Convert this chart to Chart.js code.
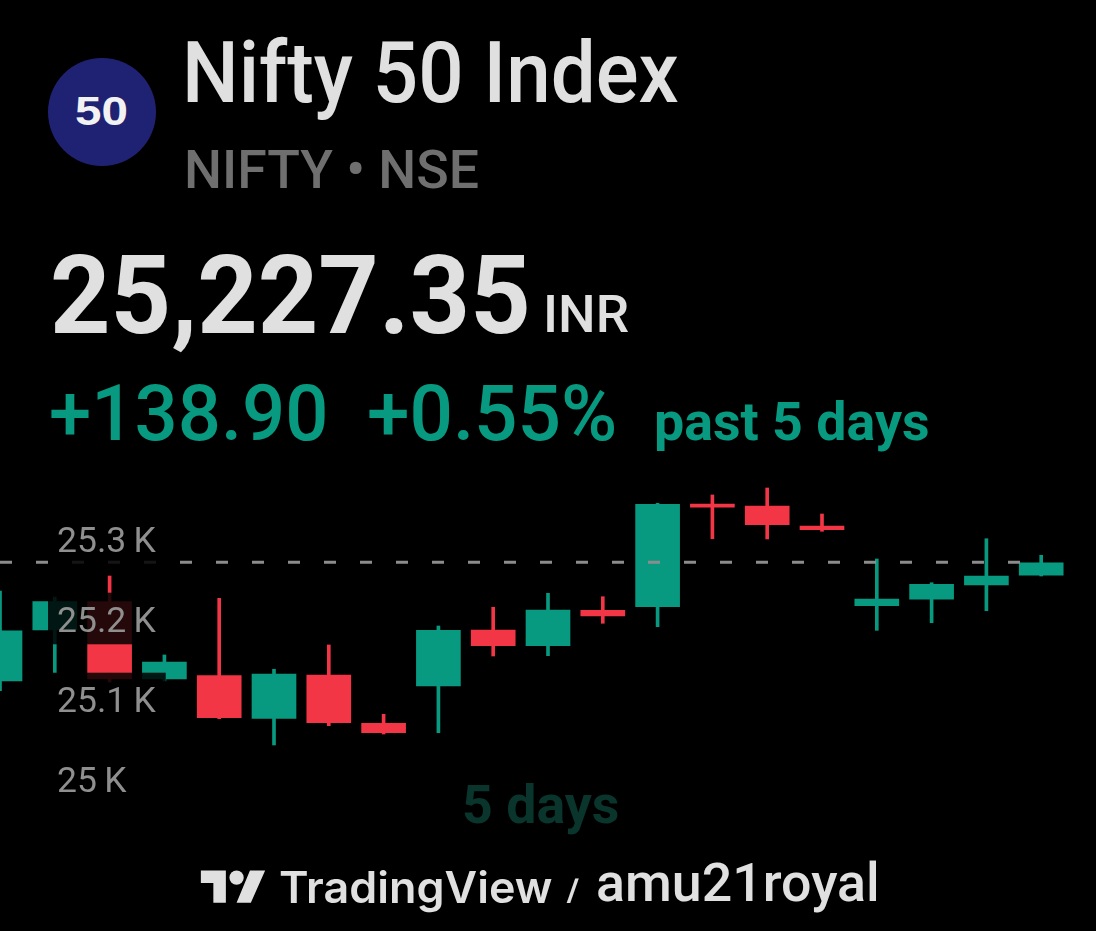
<!DOCTYPE html>
<html><head><meta charset="utf-8">
<script src="https://cdn.jsdelivr.net/npm/chart.js@4"></script>
<style>
html,body{margin:0;padding:0;background:#000;width:1096px;height:931px;overflow:hidden}
#c{position:absolute;left:0;top:0}
.t{position:absolute;white-space:nowrap;font-family:Roboto,sans-serif;line-height:1;transform-origin:0 0}
#logo{position:absolute;left:48px;top:58px;width:108px;height:108px;border-radius:50%;background:#1f2273}
</style></head><body>
<canvas id="c" width="1096" height="931"></canvas>
<div id="logo"></div>
<div class="t" style="left:75px;top:91px;font:700 41px 'Liberation Sans';color:#f2f2f2;line-height:1;transform:scaleX(1.16)">50</div>
<div class="t" style="left:182px;top:31px;font-size:85px;font-weight:500;color:#e0e0e0;transform:scaleX(.94)">Nifty 50 Index</div>
<div class="t" style="left:184px;top:143px;font-size:54px;font-weight:500;color:#6f6f6f;transform:scaleX(.992)">NIFTY • NSE</div>
<div class="t" style="left:50px;top:241px;font-size:110px;font-weight:700;color:#e0e0e0;transform:scaleX(.96)">25,227.35</div>
<div class="t" style="left:543px;top:289px;font-size:52px;font-weight:500;color:#e0e0e0;transform:scaleX(1.02)">INR</div>
<div class="t" style="left:49px;top:375px;font-size:78px;font-weight:500;color:#089981;transform:scaleX(.975)">+138.90</div>
<div class="t" style="left:367px;top:375px;font-size:78px;font-weight:500;color:#089981;transform:scaleX(.98)">+0.55%</div>
<div class="t" style="left:654px;top:395px;font-size:54px;font-weight:700;color:#089981;transform:scaleX(.995)">past 5 days</div>
<div class="t" style="left:462px;top:778px;font-size:54px;font-weight:700;color:#0a352d;transform:scaleX(.995)">5 days</div>
<svg style="position:absolute;left:200px;top:858px" width="66" height="50" viewBox="0 0 36 28"><path fill="#e0e0e0" d="M14 25H7V14H0V7h14v18zM28 25h-8l7.5-18H36l-8 18z"/><circle fill="#e0e0e0" cx="20" cy="11" r="4"/></svg>
<div class="t" style="left:279px;top:860px;font:600 44px Inter;color:#e0e0e0;transform:scaleX(1.02)">TradingView</div>
<div class="t" style="left:566px;top:873px;font:500 28px Inter;color:#e0e0e0;transform:scaleX(1.3)">/</div>
<div class="t" style="left:596px;top:856px;font-size:54px;font-weight:500;color:#e0e0e0;transform:scaleX(.995)">amu21royal</div>
<script>
const categories=['1','2','3','4','5','6','7','8','9','10','11','12','13','14','15','16','17','18','19','20',''];
const opens =[25123.8,25187.5,25222.9,25126.3,25130.4,25077.1,25131.3,25070.9,25117.5,25187.5,25167.9,25212.1,25216.6,25345,25342.5,25317.5,25217.9,25225.9,25243.8,25255.9];
const closes=[25186.6,25222.9,25126.3,25147.5,25077.9,25132.5,25071.6,25059.1,25187.1,25167.9,25212.5,25205,25344.6,25340.9,25319.1,25312.9,25226.3,25244.6,25255,25271.6];
const highs =[25236.3,25228.8,25255,25156.3,25227.1,25138.4,25168.8,25082.1,25192.5,25215.9,25233.4,25229.1,25345.9,25356.3,25365,25332.5,25276.3,25246.6,25301.6,25280.9];
const lows  =[25111.6,25133.8,25122.5,25123.8,25076.6,25043.8,25067.9,25057.5,25059.1,25155,25155.4,25195.9,25191.6,25301.6,25301.3,25310.9,25187.1,25196.6,25211.6,25255];
const refPrice=25272.1;
const tickValues=[25000,25100,25200,25300];
const tickLabels=['25\u2009K','25.1\u2009K','25.2\u2009K','25.3\u2009K'];
const GREEN='#089981',RED='#f23645';
const colors=opens.map((o,i)=>closes[i]>=o?GREEN:RED);
new Chart(document.getElementById('c'),{
  type:'bar',
  data:{labels:categories,datasets:[
    {type:'line',data:opens.map(()=>refPrice),borderColor:'#8c8c8c',borderWidth:3,borderDash:[12,24],pointRadius:0,order:0},
    {label:'wick',data:highs.map((h,i)=>[lows[i],h]),backgroundColor:colors,barThickness:3,grouped:false,order:2},
    {label:'body',data:opens.map((o,i)=>[o,closes[i]]),backgroundColor:colors,barThickness:44,grouped:false,order:1}
  ]},
  options:{
    responsive:false,animation:false,
    layout:{padding:0,autoPadding:false},
    plugins:{legend:{display:false},tooltip:{enabled:false},title:{display:false}},
    scales:{
      x:{display:false,offset:false,grid:{display:false}},
      y:{min:24811.25,max:25975,position:'left',
        grid:{display:false,drawTicks:false},border:{display:false},
        afterFit:s=>{s.width=0;s.paddingTop=0;s.paddingBottom=0},
        afterBuildTicks:s=>{s.ticks=tickValues.map(v=>({value:v}))},
        ticks:{z:1,mirror:true,padding:57,labelOffset:3,autoSkip:false,color:'#8f8f8f',
          font:{family:'Roboto',size:35.5,weight:'400'},
          showLabelBackdrop:true,backdropColor:'rgba(0,0,0,0.85)',backdropPadding:{top:9,bottom:0,left:9,right:10},
          callback:v=>tickLabels[tickValues.indexOf(v)]}
      }
    }
  }
});
</script>
</body></html>
